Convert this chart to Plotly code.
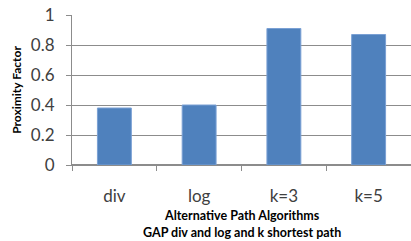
import plotly.graph_objects as go

categories = ["div", "log", "k=3", "k=5"]
proximity = [0.38, 0.40, 0.91, 0.87]
y_ticks = [0, 0.2, 0.4, 0.6, 0.8, 1]
y_tick_labels = ["0", "0.2", "0.4", "0.6", "0.8", "1"]

grid = "#8c8c8c"
font = "Lato"

fig = go.Figure(go.Bar(
    x=categories, y=proximity,
    marker=dict(color="#4F81BD", line=dict(color="#7aa0d4", width=1)),
    width=0.4,
))

fig.update_layout(
    width=411, height=241,
    margin=dict(l=72, r=0, t=15, b=76),
    plot_bgcolor="white", paper_bgcolor="white",
    showlegend=False,
    font=dict(family=font, color="#404040"),
    xaxis=dict(
        showline=True, linecolor=grid, linewidth=1,
        ticks="outside", tickson="boundaries", ticklen=5, tickcolor=grid,
        tickfont=dict(size=17, family=font, color="#404040"),
        ticklabelstandoff=16,
        showgrid=False,
    ),
    yaxis=dict(
        range=[0, 1], tickvals=y_ticks, ticktext=y_tick_labels,
        showline=True, linecolor=grid, linewidth=1,
        ticks="outside", ticklen=5, tickcolor=grid,
        tickfont=dict(size=17, family=font, color="#404040"),
        ticklabelstandoff=8,
        showgrid=True, gridcolor=grid, gridwidth=1,
        zeroline=True, zerolinecolor=grid,
        title=dict(text="<b>Proximity Factor</b>", font=dict(size=12, family=font, color="#000000"), standoff=6),
    ),
    annotations=[
        dict(text="<b>Alternative Path Algorithms</b>", xref="paper", yref="paper",
             x=0.5, y=(165 - 215) / 150, showarrow=False,
             font=dict(size=12.5, family=font, color="#000000"), yanchor="middle"),
        dict(text="<b>GAP div and log and k shortest path</b>", xref="paper", yref="paper",
             x=0.5, y=(165 - 232) / 150, showarrow=False,
             font=dict(size=12.5, family=font, color="#000000"), yanchor="middle"),
    ],
)

fig.write_html("out.html", config={"displayModeBar": False},
               post_script="document.body.style.margin='0';document.body.style.overflow='hidden';")
